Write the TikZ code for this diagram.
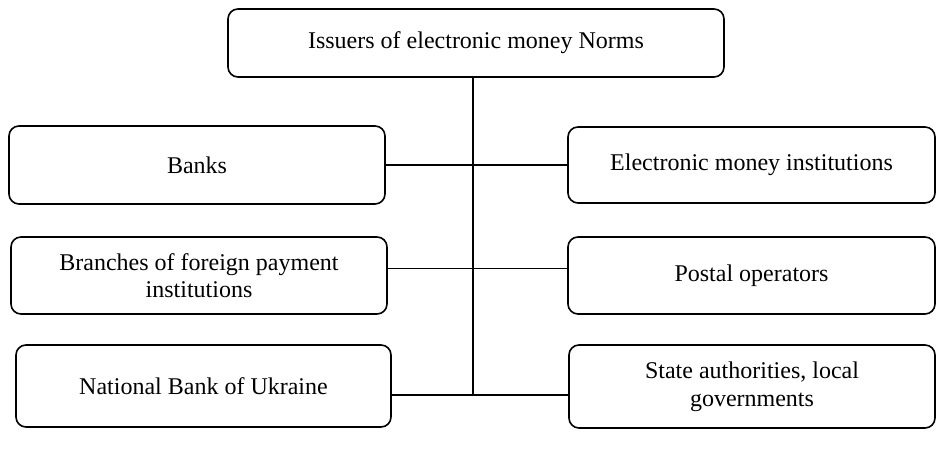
\documentclass[tikz,border=0pt]{standalone}
\usepackage{fontspec}
\setmainfont{Liberation Serif}
\usepackage{tikz}

\begin{document}
\begin{tikzpicture}[x=0.5pt, y=-0.5pt,
    issuer/.style={draw, line width=0.8pt, rounded corners=5pt, align=center,
      inner sep=0pt, outer sep=0pt, font=\fontsize{12}{13.8}\selectfont},
    link/.style={line width=0.7pt}]
    \useasboundingbox (0,0) rectangle (937,459);

    % Root
    \node[issuer, minimum width=248pt, minimum height=34pt] (root) at (476,43) {Issuers of electronic money Norms};

    % Left column
    \node[issuer, minimum width=188pt, minimum height=39pt] (banks) at (197,165) {Banks};
    \node[issuer, minimum width=188pt, minimum height=38.5pt] (branches) at (199,275.5) {Branches of foreign payment\\institutions};
    \node[issuer, minimum width=187.5pt, minimum height=41pt] (nbu) at (203.5,386) {National Bank of Ukraine};

    % Right column
    \node[issuer, minimum width=183.5pt, minimum height=38pt] (emi) at (751.5,165) {Electronic money institutions};
    \node[issuer, minimum width=183.5pt, minimum height=38.5pt] (postal) at (751.5,275.5) {Postal operators};
    \node[issuer, minimum width=183pt, minimum height=41.5pt] (state) at (752,386.5) {State authorities, local\\governments};

    % Connectors
    \coordinate (trunk) at (473,395);
    \draw[link] ([xshift=-1.5pt]root.south) -- (trunk);
    \draw[link] (banks.east) -- (emi.west);
    \draw[link] ([yshift=3.5pt]branches.east) -- ([yshift=3.5pt]postal.west);
    \draw[link] ([yshift=-4.5pt]nbu.east) -- ([yshift=-4.25pt]state.west);
\end{tikzpicture}
\end{document}
